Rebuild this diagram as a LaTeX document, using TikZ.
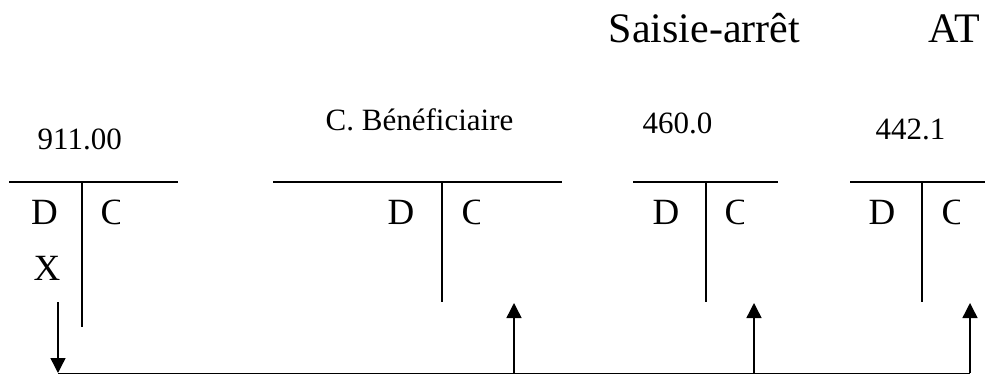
\documentclass[tikz,border=0pt]{standalone}
\usepackage{fontspec}
\setmainfont{Liberation Serif}
\usetikzlibrary{arrows.meta}

\begin{document}
\begin{tikzpicture}[x=1pt, y=-1pt, line width=1.4pt,
        heading/.style={inner sep=0pt, anchor=base west, font=\fontsize{42}{42}\selectfont},
        title/.style={inner sep=0pt, anchor=base west, font=\fontsize{31}{31}\selectfont},
        entry/.style={inner sep=0pt, anchor=base, font=\fontsize{37}{37}\selectfont},
        flow/.style={-{Triangle[width=15pt,length=15pt]}}]
        \useasboundingbox (0,0) rectangle (985,374);
        \node[heading] (saisie) at (608,43) {Saisie-arrêt};
        \node[heading] (atd) at (928,43) {AT};
        \node[title] (t911) at (37,150) {911.00};
        \node[title] (tbenef) at (325,131) {C. Bénéficiaire};
        \node[title] (t460) at (642,134) {460.0};
        \node[title] (t442) at (875,140) {442.1};
        % T accounts
        \draw (9,182) -- (178,182);
        \draw (82,182) -- (82,327);
        \draw (273,182) -- (562,182);
        \draw (442,182) -- (442,302);
        \draw (633,182) -- (778,182);
        \draw (706,182) -- (706,302);
        \draw (850,182) -- (985,182);
        \draw (922,182) -- (922,302);
        \node[entry] (d911) at (44.5,225) {D};
        \node[entry] (dbenef) at (401,225) {D};
        \node[entry] (d460) at (666,225) {D};
        \node[entry] (d442) at (882,225) {D};
        \node[entry] (x911) at (47,280) {X};
        \begin{scope}
            \clip (100,190) rectangle (119,232);
            \node[entry, anchor=base west] (c911) at (100,225) {C};
        \end{scope}
        \begin{scope}
            \clip (461,190) rectangle (479,232);
            \node[entry, anchor=base west] (cbenef) at (461,225) {C};
        \end{scope}
        \begin{scope}
            \clip (724,190) rectangle (743,232);
            \node[entry, anchor=base west] (c460) at (724,225) {C};
        \end{scope}
        \begin{scope}
            \clip (941,190) rectangle (959,232);
            \node[entry, anchor=base west] (c442) at (941,225) {C};
        \end{scope}
        % transfers
        \coordinate (s911) at (58,302);
        \coordinate (b911) at (58,373);
        \coordinate (bbenef) at (514,373);
        \coordinate (ebenef) at (514,303);
        \coordinate (b460) at (754,373);
        \coordinate (e460) at (754,303);
        \coordinate (b442) at (970,373);
        \coordinate (e442) at (970,303);
        \draw[line width=1pt] (b911) -- (b442);
        \draw[flow] (s911) -- (b911);
        \draw[flow] (bbenef) -- (ebenef);
        \draw[flow] (b460) -- (e460);
        \draw[flow] (b442) -- (e442);
    \end{tikzpicture}
\end{document}
